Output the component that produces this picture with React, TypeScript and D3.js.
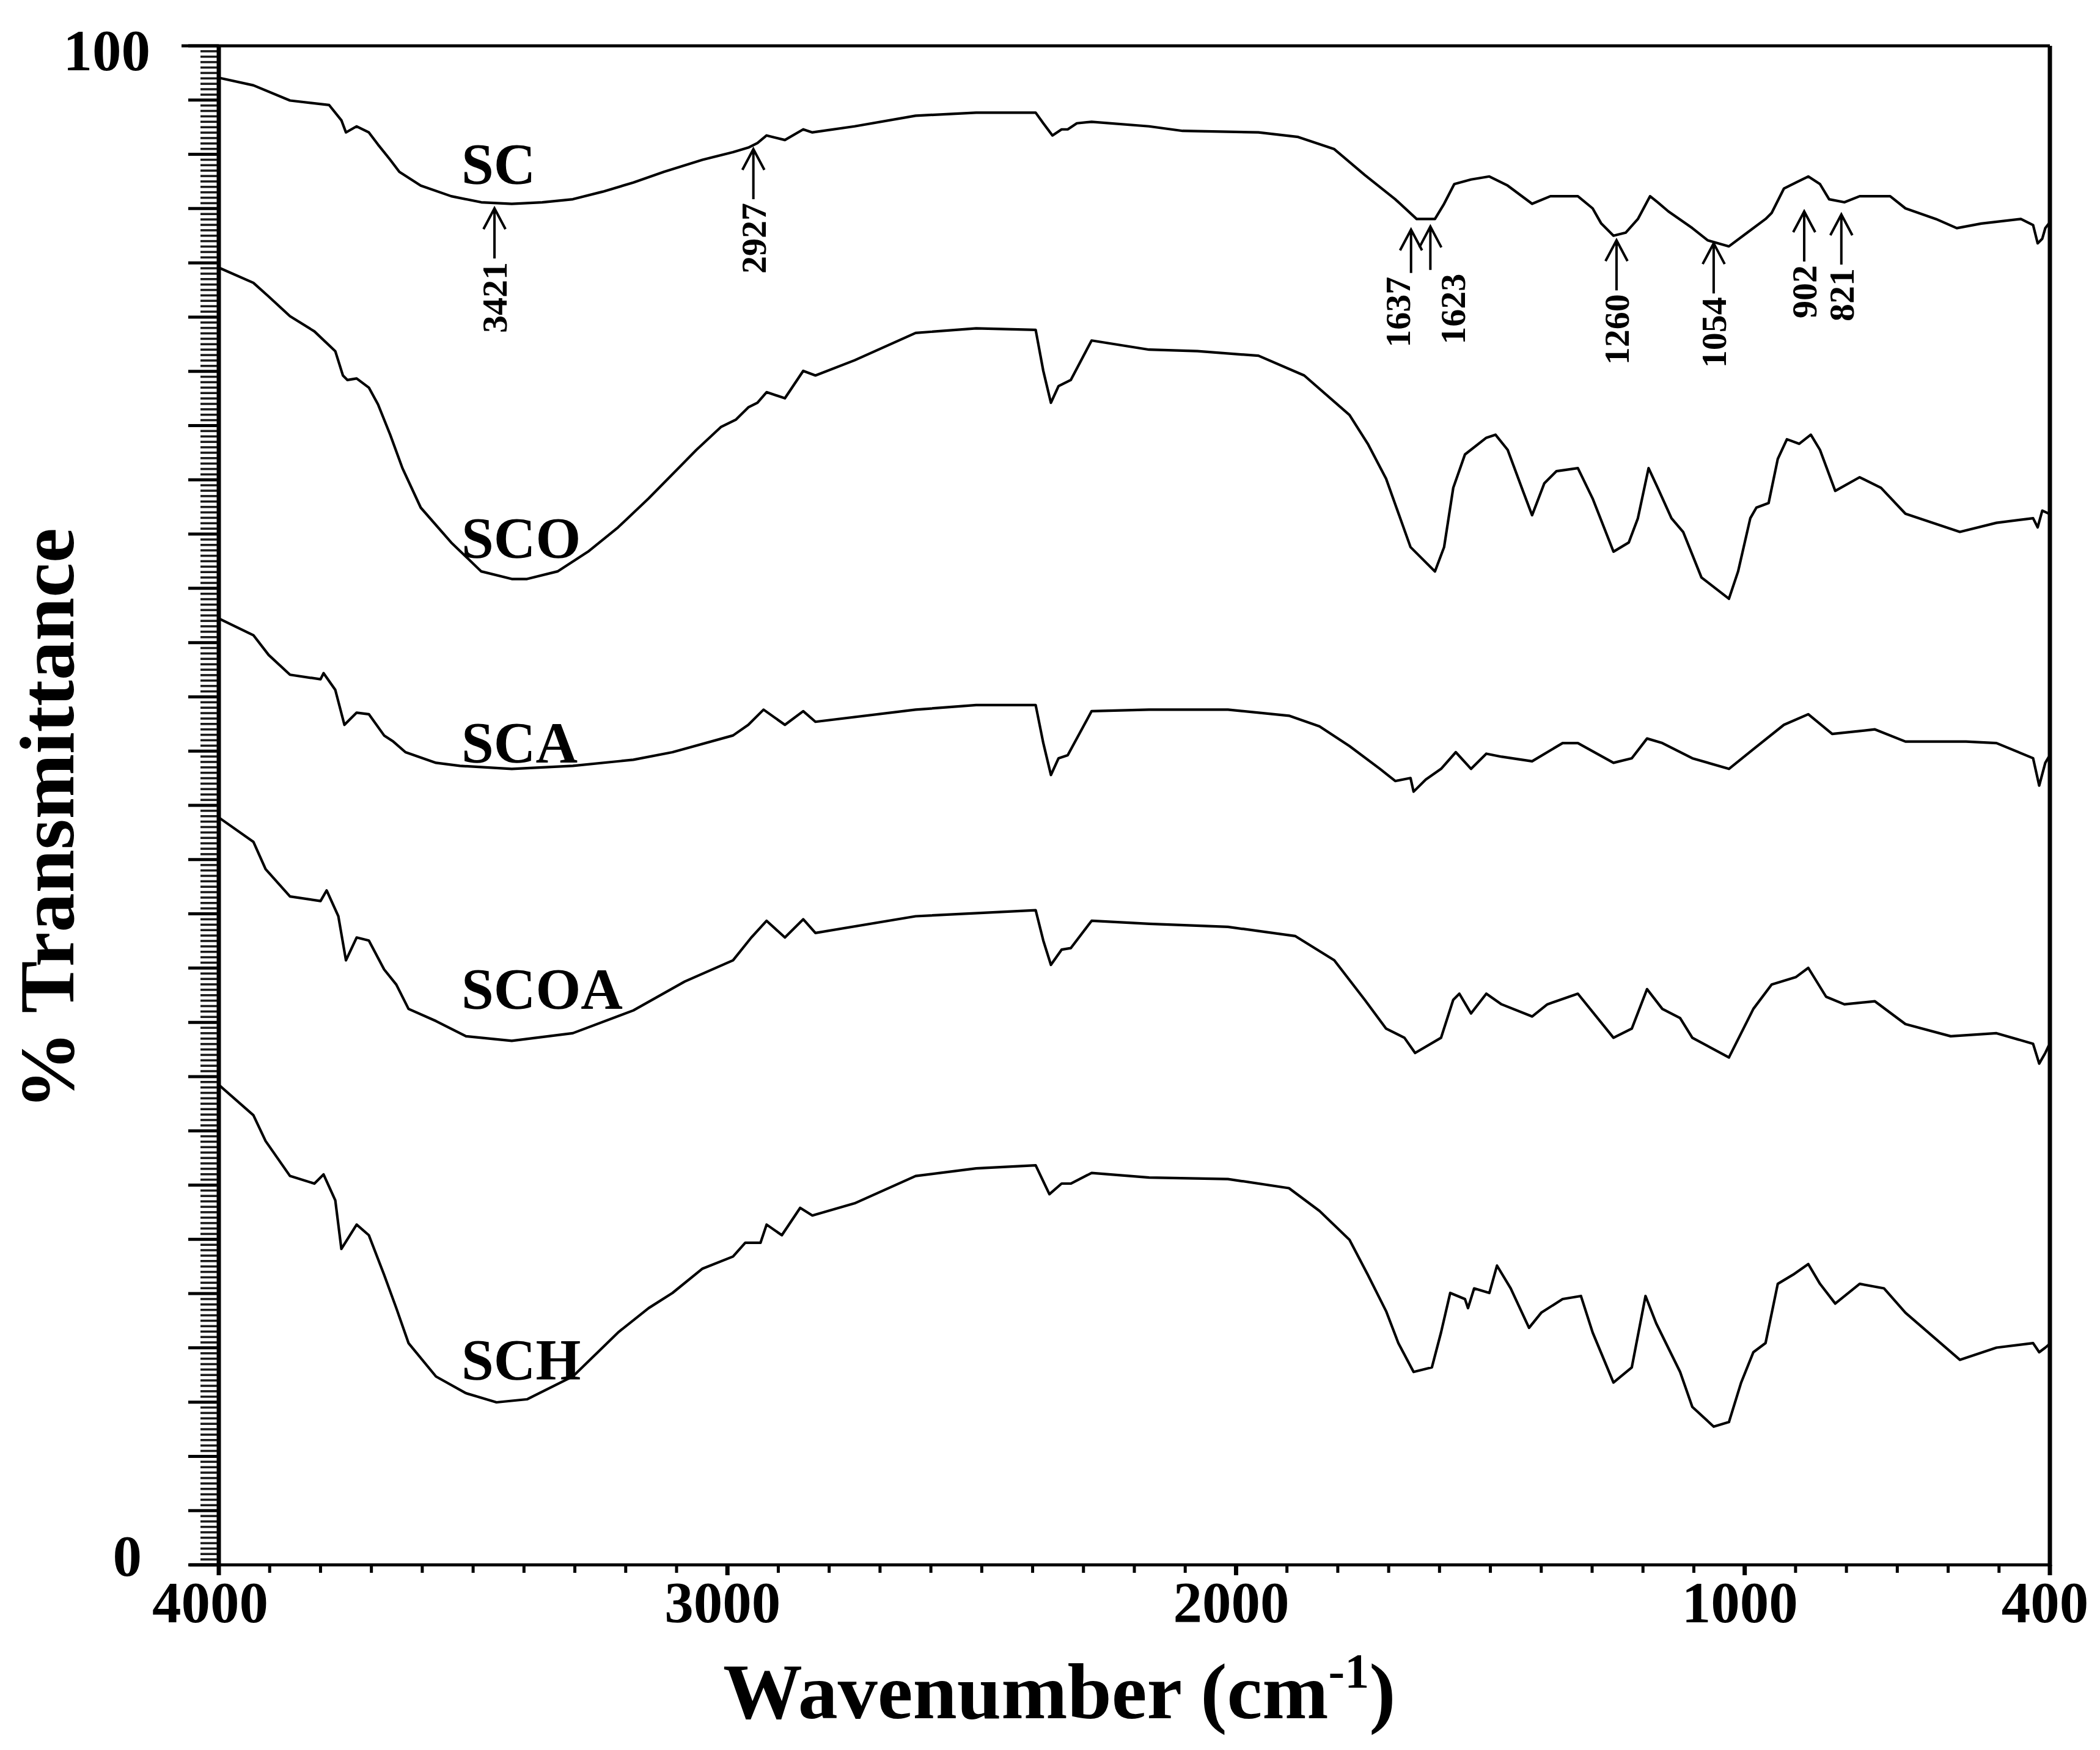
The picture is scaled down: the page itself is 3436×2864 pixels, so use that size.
import { useEffect, useRef } from 'react';
import * as d3 from 'd3';

// FTIR spectra: [wavenumber cm-1, % transmittance]
const scPoints: [number, number][] = [
  [4000, 97.9], [3932, 97.4], [3860, 96.4], [3783, 96.1], [3759, 95.1], [3750, 94.3], [3729, 94.7], [3705, 94.3],
  [3687, 93.5], [3663, 92.5], [3645, 91.7], [3603, 90.8], [3543, 90.1], [3484, 89.7], [3424, 89.6], [3364, 89.7],
  [3304, 89.9], [3245, 90.4], [3185, 91.0], [3125, 91.7], [3049, 92.5], [2989, 93.0], [2959, 93.3], [2941, 93.6],
  [2923, 94.1], [2887, 93.8], [2851, 94.5], [2833, 94.3], [2750, 94.7], [2630, 95.4], [2511, 95.6], [2394, 95.6],
  [2379, 94.9], [2361, 94.1], [2343, 94.5], [2331, 94.5], [2313, 94.9], [2284, 95.0], [2171, 94.7], [2105, 94.4],
  [1956, 94.3], [1878, 94.0], [1807, 93.2], [1747, 91.5], [1687, 89.9], [1645, 88.6], [1609, 88.6], [1591, 89.6],
  [1571, 90.9], [1538, 91.2], [1502, 91.4], [1466, 90.8], [1418, 89.6], [1382, 90.1], [1328, 90.1], [1299, 89.3],
  [1282, 88.3], [1258, 87.5], [1234, 87.7], [1210, 88.6], [1186, 90.1], [1171, 89.7], [1150, 89.1], [1103, 88.0],
  [1073, 87.2], [1031, 86.8], [995, 87.7], [959, 88.6], [947, 89.0], [923, 90.6], [899, 91.0], [875, 91.4],
  [852, 90.9], [834, 89.9], [804, 89.7], [774, 90.1], [714, 90.1], [684, 89.3], [624, 88.6], [583, 88.0],
  [535, 88.3], [457, 88.6], [433, 88.2], [424, 87.0], [415, 87.3], [409, 88.0], [402, 88.3],
];

const scoPoints: [number, number][] = [
  [4000, 85.4], [3932, 84.4], [3902, 83.5], [3860, 82.2], [3812, 81.2], [3771, 79.9], [3756, 78.3], [3747, 78.0],
  [3729, 78.1], [3705, 77.5], [3687, 76.4], [3663, 74.4], [3639, 72.2], [3603, 69.6], [3543, 67.3], [3484, 65.4],
  [3424, 64.9], [3394, 64.9], [3334, 65.4], [3274, 66.7], [3215, 68.3], [3155, 70.2], [3108, 71.8], [3061, 73.4],
  [3013, 74.9], [2983, 75.4], [2959, 76.2], [2941, 76.5], [2923, 77.2], [2887, 76.8], [2851, 78.6], [2827, 78.3],
  [2750, 79.3], [2630, 81.1], [2511, 81.4], [2394, 81.3], [2379, 78.6], [2364, 76.5], [2349, 77.6], [2325, 78.0],
  [2284, 80.6], [2171, 80.0], [2076, 79.9], [1956, 79.6], [1866, 78.3], [1777, 75.7], [1741, 73.8], [1705, 71.5],
  [1657, 67.0], [1609, 65.4], [1591, 67.0], [1573, 70.9], [1550, 73.1], [1508, 74.2], [1490, 74.4], [1466, 73.4],
  [1436, 70.7], [1418, 69.1], [1394, 71.2], [1370, 72.0], [1328, 72.2], [1299, 70.2], [1258, 66.7], [1228, 67.3],
  [1210, 68.9], [1189, 72.2], [1171, 70.9], [1144, 68.9], [1121, 68.0], [1085, 65.0], [1031, 63.6], [1013, 65.4],
  [989, 68.9], [977, 69.6], [953, 69.9], [935, 72.8], [917, 74.1], [893, 73.8], [870, 74.4], [852, 73.4],
  [822, 70.7], [774, 71.6], [732, 70.9], [684, 69.2], [577, 68.0], [505, 68.6], [433, 68.9], [424, 68.3],
  [415, 69.4], [402, 69.2],
];

const scaPoints: [number, number][] = [
  [4000, 62.3], [3932, 61.2], [3902, 59.9], [3860, 58.6], [3800, 58.3], [3794, 58.7], [3771, 57.6], [3753, 55.3],
  [3729, 56.1], [3705, 56.0], [3675, 54.6], [3657, 54.2], [3633, 53.5], [3573, 52.8], [3526, 52.6], [3424, 52.4],
  [3304, 52.6], [3185, 53.0], [3108, 53.5], [2989, 54.6], [2959, 55.3], [2929, 56.3], [2887, 55.3], [2851, 56.2],
  [2827, 55.5], [2630, 56.3], [2511, 56.6], [2394, 56.6], [2379, 54.1], [2364, 52.0], [2349, 53.1], [2331, 53.3],
  [2284, 56.2], [2171, 56.3], [2016, 56.3], [1896, 55.9], [1836, 55.2], [1777, 53.9], [1717, 52.4], [1687, 51.6],
  [1657, 51.8], [1651, 50.9], [1627, 51.7], [1597, 52.4], [1568, 53.5], [1538, 52.4], [1508, 53.4], [1478, 53.2],
  [1418, 52.9], [1358, 54.1], [1328, 54.1], [1258, 52.8], [1222, 53.1], [1192, 54.4], [1162, 54.1], [1103, 53.1],
  [1031, 52.4], [983, 53.7], [923, 55.3], [875, 56.0], [828, 54.7], [744, 55.0], [684, 54.2], [565, 54.2],
  [505, 54.1], [433, 53.1], [421, 51.3], [409, 52.8], [402, 53.2],
];

const scoaPoints: [number, number][] = [
  [4000, 49.2], [3932, 47.6], [3908, 45.8], [3860, 44.0], [3800, 43.7], [3788, 44.4], [3765, 42.7], [3750, 39.8],
  [3729, 41.3], [3705, 41.1], [3675, 39.2], [3651, 38.2], [3627, 36.6], [3573, 35.8], [3514, 34.8], [3424, 34.5],
  [3304, 35.0], [3185, 36.5], [3084, 38.4], [2989, 39.8], [2953, 41.3], [2923, 42.4], [2887, 41.3], [2851, 42.5],
  [2827, 41.6], [2630, 42.7], [2394, 43.1], [2379, 41.1], [2364, 39.5], [2343, 40.5], [2325, 40.6], [2284, 42.4],
  [2171, 42.2], [2016, 42.0], [1884, 41.4], [1807, 39.8], [1747, 37.2], [1705, 35.3], [1669, 34.7], [1648, 33.7],
  [1597, 34.7], [1573, 37.2], [1561, 37.6], [1538, 36.3], [1508, 37.6], [1478, 36.9], [1418, 36.1], [1388, 36.9],
  [1328, 37.6], [1258, 34.7], [1222, 35.3], [1192, 37.9], [1162, 36.6], [1127, 36.0], [1103, 34.7], [1031, 33.4],
  [983, 36.6], [947, 38.2], [899, 38.7], [875, 39.3], [840, 37.4], [804, 36.9], [744, 37.1], [684, 35.6],
  [595, 34.8], [505, 35.0], [433, 34.3], [421, 33.0], [409, 33.7], [402, 34.2],
];

const schPoints: [number, number][] = [
  [4000, 31.6], [3932, 29.6], [3908, 27.9], [3860, 25.6], [3812, 25.1], [3794, 25.7], [3771, 24.0], [3759, 20.8],
  [3729, 22.4], [3705, 21.7], [3675, 19.1], [3651, 16.9], [3627, 14.6], [3573, 12.4], [3514, 11.3], [3454, 10.7],
  [3394, 10.9], [3304, 12.4], [3215, 15.3], [3155, 16.9], [3108, 17.9], [3049, 19.5], [2989, 20.3], [2965, 21.2],
  [2935, 21.2], [2923, 22.4], [2893, 21.7], [2857, 23.5], [2833, 23.0], [2750, 23.8], [2630, 25.6], [2511, 26.1],
  [2394, 26.3], [2367, 24.4], [2343, 25.1], [2325, 25.1], [2284, 25.8], [2171, 25.5], [2016, 25.4], [1896, 24.8],
  [1836, 23.3], [1777, 21.4], [1741, 19.1], [1705, 16.7], [1681, 14.6], [1651, 12.7], [1615, 13.0], [1597, 15.3],
  [1579, 17.9], [1550, 17.5], [1544, 16.9], [1532, 18.2], [1502, 17.9], [1487, 19.7], [1460, 18.2], [1424, 15.6],
  [1400, 16.6], [1358, 17.5], [1322, 17.7], [1299, 15.3], [1258, 12.0], [1222, 13.0], [1195, 17.7], [1174, 15.9],
  [1127, 12.7], [1103, 10.4], [1061, 9.1], [1031, 9.4], [1007, 12.0], [983, 14.0], [959, 14.6], [935, 18.5],
  [905, 19.1], [875, 19.8], [852, 18.5], [822, 17.2], [774, 18.5], [726, 18.2], [684, 16.6], [577, 13.5],
  [505, 14.3], [433, 14.6], [421, 14.0], [409, 14.3], [402, 14.5],
];

const seriesNames = ['SC', 'SCO', 'SCA', 'SCOA', 'SCH'];
const seriesData = [scPoints, scoPoints, scaPoints, scoaPoints, schPoints];
// where each curve name sits: [wavenumber, %T of baseline]
const seriesLabelAnchors: [number, number][] = [[3523, 90.9], [3523, 66.3], [3523, 52.8], [3523, 36.6], [3523, 12.2]];

// peak assignments on the SC curve
const peakLabels = ['3421', '2927', '1637', '1623', '1260', '1054', '902', '821'];
const peakWavenumbers = [3458, 2949, 1656, 1618, 1252, 1061, 883, 810];
const peakTips = [89.3, 93.2, 87.9, 88.1, 87.2, 87.0, 89.1, 88.9];

const xTickLabels = [4000, 3000, 2000, 1000, 400];
const yTickLabels = [100, 0];

const FONT = '"Liberation Serif", "Times New Roman", Times, serif';

export default function App() {
  const svgRef = useRef<SVGSVGElement | null>(null);

  useEffect(() => {
    const width = 3436;
    const height = 2864;
    const plot = { left: 358, right: 3354, top: 75, bottom: 2561 };

    const svg = d3.select(svgRef.current).attr('width', width).attr('height', height);
    svg.selectAll('*').remove();

    svg.append('rect').attr('width', width).attr('height', height).attr('fill', '#fff');

    const xScale = d3.scaleLinear().domain([4000, 400]).range([plot.left, plot.right]);
    const yScale = d3.scaleLinear().domain([0, 100]).range([plot.bottom, plot.top]);

    // y axis: dense comb of minor ticks, major every 1/28 of the range
    const yMinor = d3.range(0, 281).map((i) => (i * 100) / 280);
    const yMajor = d3.range(0, 29).map((i) => (i * 100) / 28);
    svg.append('g')
      .selectAll('line')
      .data(yMinor)
      .join('line')
      .attr('x1', plot.left - 30)
      .attr('x2', plot.left)
      .attr('y1', (d) => yScale(d))
      .attr('y2', (d) => yScale(d))
      .attr('stroke', '#1a1a1a')
      .attr('stroke-width', 3.6);
    svg.append('g')
      .selectAll('line')
      .data(yMajor)
      .join('line')
      .attr('x1', plot.left - 50)
      .attr('x2', plot.left)
      .attr('y1', (d) => yScale(d))
      .attr('y2', (d) => yScale(d))
      .attr('stroke', '#000')
      .attr('stroke-width', 5);

    // x axis ticks every 100 cm-1
    const xMinor = d3.range(400, 4001, 100);
    svg.append('g')
      .selectAll('line')
      .data(xMinor)
      .join('line')
      .attr('x1', (d) => xScale(d))
      .attr('x2', (d) => xScale(d))
      .attr('y1', plot.bottom)
      .attr('y2', (d) => plot.bottom + (xTickLabels.includes(d) ? 17 : 13))
      .attr('stroke', '#000')
      .attr('stroke-width', (d) => (xTickLabels.includes(d) ? 7 : 5));

    // frame
    const frame = svg.append('g').attr('stroke', '#000').attr('fill', 'none');
    frame.append('line').attr('x1', 297).attr('x2', plot.right).attr('y1', plot.top).attr('y2', plot.top).attr('stroke-width', 5);
    frame.append('line').attr('x1', 310).attr('x2', plot.right).attr('y1', plot.bottom).attr('y2', plot.bottom).attr('stroke-width', 5);
    frame.append('line').attr('x1', plot.left).attr('x2', plot.left).attr('y1', plot.top).attr('y2', plot.bottom).attr('stroke-width', 7);
    frame.append('line').attr('x1', plot.right).attr('x2', plot.right).attr('y1', plot.top).attr('y2', plot.bottom + 2).attr('stroke-width', 7);

    // tick labels
    svg.append('g')
      .selectAll('text')
      .data(xTickLabels)
      .join('text')
      .attr('x', (d) => xScale(d) - (d === 4000 ? 14 : 8))
      .attr('y', plot.bottom + 94)
      .attr('text-anchor', 'middle')
      .attr('font-family', FONT)
      .attr('font-weight', 'bold')
      .attr('font-size', 95)
      .text((d) => d);
    svg.append('g')
      .selectAll('text')
      .data(yTickLabels)
      .join('text')
      .attr('x', (d) => (d === 100 ? 246 : 232))
      .attr('y', (d) => yScale(d) + (d === 100 ? 40 : 18))
      .attr('text-anchor', 'end')
      .attr('font-family', FONT)
      .attr('font-weight', 'bold')
      .attr('font-size', 95)
      .text((d) => d);

    // axis titles
    const xTitle = svg.append('text')
      .attr('x', 1183)
      .attr('y', 2812)
      .attr('font-family', FONT)
      .attr('font-weight', 'bold')
      .attr('font-size', 130);
    xTitle.append('tspan').text('Wavenumber (cm');
    xTitle.append('tspan').attr('font-size', 80).attr('dy', -50).text('-1');
    xTitle.append('tspan').attr('dy', 50).text(')');

    svg.append('text')
      .attr('transform', 'translate(120, 1340) rotate(-90)')
      .attr('text-anchor', 'middle')
      .attr('font-family', FONT)
      .attr('font-weight', 'bold')
      .attr('font-size', 128)
      .text('% Transmittance');

    // spectra
    const line = d3.line<[number, number]>()
      .x((d) => xScale(d[0]))
      .y((d) => yScale(d[1]));
    svg.append('g')
      .selectAll('path')
      .data(seriesData)
      .join('path')
      .attr('d', (d) => line(d))
      .attr('fill', 'none')
      .attr('stroke', '#000')
      .attr('stroke-width', 4.2)
      .attr('stroke-linejoin', 'round');

    // curve names
    svg.append('g')
      .selectAll('text')
      .data(seriesNames)
      .join('text')
      .attr('x', (_, i) => xScale(seriesLabelAnchors[i][0]))
      .attr('y', (_, i) => yScale(seriesLabelAnchors[i][1]))
      .attr('font-family', FONT)
      .attr('font-weight', 'bold')
      .attr('font-size', 95)
      .text((d) => d);

    // peak arrows + rotated labels
    const peakFont = 58;
    const peaks = svg.append('g');
    peakLabels.forEach((label, i) => {
      const ax = xScale(peakWavenumbers[i]);
      const tipY = yScale(peakTips[i]);
      // 1637 sits left of its arrow and 1623 right of it; the rest are inline
      const textDx = label === '1637' ? -2 : label === '1623' ? 57 : 20;
      const gap = label === '1637' || label === '1623' ? 77 : 88;
      const shaftEnd = tipY + gap - 6;
      peaks.append('path')
        .attr('d', `M${ax},${shaftEnd} L${ax},${tipY} M${ax - 18},${tipY + 34} L${ax},${tipY} L${ax + 18},${tipY + 34}`)
        .attr('fill', 'none')
        .attr('stroke', '#000')
        .attr('stroke-width', 4);
      peaks.append('text')
        .attr('transform', `translate(${ax + textDx}, ${tipY + gap}) rotate(-90)`)
        .attr('text-anchor', 'end')
        .attr('font-family', FONT)
        .attr('font-weight', 'bold')
        .attr('font-size', peakFont)
        .text(label);
    });
  }, []);

  return (
    <svg
      ref={svgRef}
      style={{ position: 'absolute', left: 0, top: 0, display: 'block' }}
    />
  );
}
